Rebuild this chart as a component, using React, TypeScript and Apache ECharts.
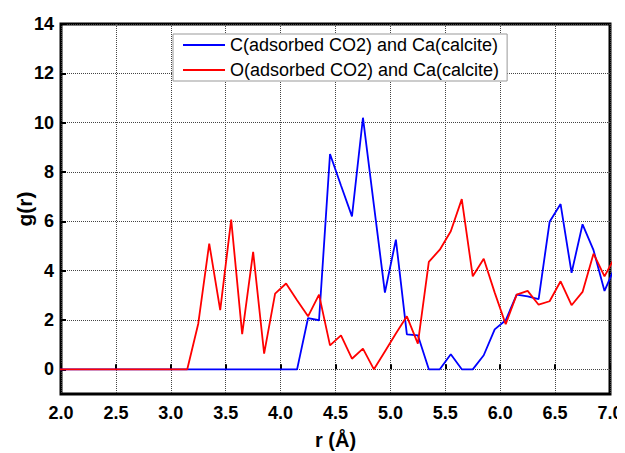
import React, { useEffect, useRef } from "react";
import * as echarts from "echarts";

const rValues = [
  1.95, 2.05, 2.15, 2.25, 2.35, 2.45, 2.55, 2.65, 2.75, 2.85, 2.95, 3.05, 3.15,
  3.25, 3.35, 3.45, 3.55, 3.65, 3.75, 3.85, 3.95, 4.05, 4.15, 4.25, 4.35, 4.45,
  4.55, 4.65, 4.75, 4.85, 4.95, 5.05, 5.15, 5.25, 5.35, 5.45, 5.55, 5.65, 5.75,
  5.85, 5.95, 6.05, 6.15, 6.25, 6.35, 6.45, 6.55, 6.65, 6.75, 6.85, 6.95, 7.05,
];

const carbonCa = [
  0, 0, 0, 0, 0, 0, 0, 0, 0, 0, 0, 0, 0,
  0, 0, 0, 0, 0, 0, 0, 0, 0, 0, 2.08, 1.99, 8.73,
  7.45, 6.2, 10.2, 6.65, 3.11, 5.26, 1.42, 1.38, 0, 0, 0.61, 0, 0,
  0.57, 1.62, 1.99, 3.03, 2.96, 2.85, 5.98, 6.7, 3.91, 5.88, 4.83, 3.18, 4.2,
];

const oxygenCa = [
  0, 0, 0, 0, 0, 0, 0, 0, 0, 0, 0, 0, 0,
  1.85, 5.1, 2.4, 6.07, 1.43, 4.76, 0.64, 3.07, 3.48, 2.8, 2.15, 3.03, 0.97,
  1.38, 0.43, 0.84, 0, 0.72, 1.45, 2.15, 1.04, 4.36, 4.85, 5.6, 6.9, 3.77,
  4.48, 3.11, 1.83, 3.03, 3.18, 2.62, 2.76, 3.57, 2.6, 3.14, 4.69, 3.77, 4.6,
];

const yTicks = [0, 2, 4, 6, 8, 10, 12, 14];
const seriesNames = [
  "C(adsorbed CO2) and Ca(calcite)",
  "O(adsorbed CO2) and Ca(calcite)",
];

export default function App() {
  const ref = useRef<HTMLDivElement>(null);
  useEffect(() => {
    if (!ref.current) return;
    const chart = echarts.init(ref.current, null, { renderer: "svg" });
    const font = "'Liberation Sans', Arial, sans-serif";
    chart.setOption({
      animation: false,
      backgroundColor: "#fff",
      textStyle: { fontFamily: font },
      grid: {
        left: 61,
        right: 15,
        top: 24,
        bottom: 59,
        show: true,
        borderColor: "#000",
        borderWidth: 3,
        outerBoundsMode: "none",
        containLabel: false,
      },
      legend: {
        show: true,
        left: 173,
        top: 34,
        orient: "vertical",
        backgroundColor: "#fff",
        borderColor: "#999",
        borderWidth: 1,
        borderRadius: 0,
        padding: [1, 8, 1, 10],
        itemGap: 5,
        itemWidth: 42,
        itemHeight: 2,
        icon: "rect",
        textStyle: { fontSize: 18, color: "#000", fontFamily: font, lineHeight: 20 },
        data: seriesNames,
      },
      xAxis: {
        type: "value",
        min: 2,
        max: 7,
        interval: 0.5,
        name: "r (Å)",
        nameLocation: "middle",
        nameGap: 36,
        nameTextStyle: { fontSize: 20, fontWeight: "bold", color: "#000", fontFamily: font },
        axisLine: { show: false },
        axisTick: { show: true, inside: true, length: 5, lineStyle: { color: "#000", width: 2 } },
        axisLabel: {
          fontSize: 18,
          fontWeight: "bold",
          color: "#000",
          margin: 10,
          formatter: (v: number) => v.toFixed(1),
        },
        splitLine: { show: true, lineStyle: { type: "dotted", color: "#444", width: 1 } },
      },
      yAxis: {
        type: "value",
        min: -1,
        max: 14,
        name: "g(r)",
        nameLocation: "middle",
        nameGap: 26,
        nameMoveOverlap: false,
        nameRotate: 90,
        nameTextStyle: { fontSize: 21, fontWeight: "bold", color: "#000", fontFamily: font },
        axisLine: { show: false },
        axisTick: {
          show: true,
          inside: true,
          length: 5,
          customValues: yTicks,
          lineStyle: { color: "#000", width: 2 },
        },
        axisLabel: {
          fontSize: 18,
          fontWeight: "bold",
          color: "#000",
          margin: 7,
          customValues: yTicks,
        },
        splitLine: { show: true, lineStyle: { type: "dotted", color: "#444", width: 1 } },
      },
      series: [
        {
          name: seriesNames[0],
          type: "line",
          symbol: "none",
          clip: true,
          color: "#0000ff",
          lineStyle: { color: "#0000ff", width: 1.8 },
          data: rValues.map((r, i) => [r, carbonCa[i]]),
          z: 2,
        },
        {
          name: seriesNames[1],
          type: "line",
          symbol: "none",
          clip: true,
          color: "#ff0000",
          lineStyle: { color: "#ff0000", width: 1.8 },
          data: rValues.map((r, i) => [r, oxygenCa[i]]),
          z: 3,
        },
      ],
    });
    return () => chart.dispose();
  }, []);
  return <div ref={ref} style={{ width: 625, height: 453, marginLeft: -8, marginTop: -8 }} />;
}
